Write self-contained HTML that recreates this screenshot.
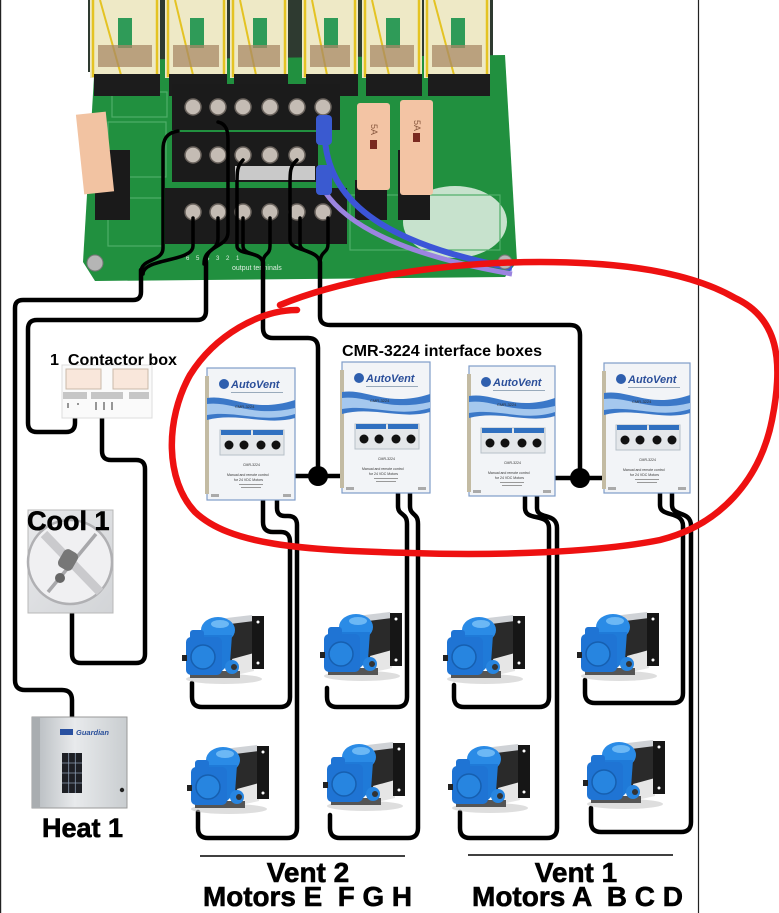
<!DOCTYPE html>
<html><head><meta charset="utf-8"><style>
html,body{margin:0;padding:0;background:#fff;}
svg{display:block;}
text{font-family:"Liberation Sans",Arial,sans-serif;}
</style></head><body>
<svg width="779" height="913" viewBox="0 0 779 913" xmlns="http://www.w3.org/2000/svg">
<defs>
<linearGradient id="heat" x1="0" y1="0" x2="1" y2="0">
<stop offset="0" stop-color="#b4b9bd"/><stop offset="0.45" stop-color="#e8eaec"/><stop offset="1" stop-color="#c9cdd0"/></linearGradient>
<linearGradient id="fanbg" x1="0" y1="0" x2="1" y2="1">
<stop offset="0" stop-color="#e8e9eb"/><stop offset="1" stop-color="#d2d4d7"/></linearGradient>
<g id="motor">
<ellipse cx="42" cy="66" rx="38" ry="5" fill="#c8c8c8" opacity=".6"/>
<polygon points="36,6 70,2 72,10 40,14" fill="#cfd2d6"/>
<polygon points="40,12 72,8 72,56 46,60" fill="#2a2a2a"/>
<polygon points="50,46 72,40 72,58 54,62" fill="#e6e6e6"/>
<rect x="70" y="3" width="12" height="53" fill="#161616"/>
<circle cx="76" cy="9" r="1.5" fill="#fff"/><circle cx="76" cy="50" r="1.5" fill="#fff"/>
<rect x="8" y="58" width="50" height="7" fill="#555"/>
<ellipse cx="36" cy="17" rx="17" ry="13" fill="#2a8be6"/>
<path d="M20,22 L50,22 L48,50 L40,58 L24,58 Z" fill="#1f7ad8"/>
<rect x="4" y="24" width="36" height="38" rx="5" fill="#1f74d4"/>
<rect x="8" y="17" width="14" height="12" rx="3" fill="#1f74d4"/>
<circle cx="21" cy="44" r="12" fill="#2785e0" stroke="#165fb0" stroke-width="1.5"/>
<circle cx="50" cy="54" r="7" fill="#2785e0"/>
<circle cx="52" cy="54" r="3" fill="#333"/>
<rect x="0" y="42" width="5" height="6" fill="#222"/>
<ellipse cx="38" cy="11" rx="9" ry="4" fill="#6cb8f5"/>
</g>
</defs>
<rect width="779" height="913" fill="#fff"/>

<!-- PCB -->
<rect x="88" y="0" width="405" height="72" fill="#2e3a30"/>
<polygon points="95,60 505,55 517,262 505,277 95,281 83,262" fill="#21903f"/>
<ellipse cx="455" cy="222" rx="52" ry="36" fill="#e4f1e6" opacity=".85"/>
<g fill="none" stroke="#4fae68" stroke-width="1.2">
<rect x="108" y="122" width="58" height="55"/><rect x="108" y="198" width="55" height="48"/>
<rect x="350" y="195" width="150" height="55"/><rect x="112" y="92" width="55" height="25"/>
</g>
<!-- relays -->
<g>
<rect x="90" y="-4" width="70" height="82" fill="#eee9c6"/><rect x="93" y="-4" width="64" height="80" fill="none" stroke="#e4c323" stroke-width="2.5"/><line x1="100" y1="0" x2="121" y2="75" stroke="#e4c323" stroke-width="2"/><rect x="118" y="18" width="14" height="30" fill="#2f9b58"/><rect x="98" y="45" width="54" height="22" fill="#a88866" opacity=".75"/><rect x="94" y="74" width="66" height="22" fill="#1c1c1c"/>
<rect x="165" y="-4" width="62" height="82" fill="#eee9c6"/><rect x="168" y="-4" width="56" height="80" fill="none" stroke="#e4c323" stroke-width="2.5"/><line x1="175" y1="0" x2="193" y2="75" stroke="#e4c323" stroke-width="2"/><rect x="190" y="18" width="14" height="30" fill="#2f9b58"/><rect x="173" y="45" width="46" height="22" fill="#a88866" opacity=".75"/><rect x="169" y="74" width="58" height="22" fill="#1c1c1c"/>
<rect x="230" y="-4" width="58" height="82" fill="#eee9c6"/><rect x="233" y="-4" width="52" height="80" fill="none" stroke="#e4c323" stroke-width="2.5"/><line x1="240" y1="0" x2="256" y2="75" stroke="#e4c323" stroke-width="2"/><rect x="253" y="18" width="14" height="30" fill="#2f9b58"/><rect x="238" y="45" width="42" height="22" fill="#a88866" opacity=".75"/><rect x="234" y="74" width="54" height="22" fill="#1c1c1c"/>
<rect x="302" y="-4" width="56" height="82" fill="#eee9c6"/><rect x="305" y="-4" width="50" height="80" fill="none" stroke="#e4c323" stroke-width="2.5"/><line x1="312" y1="0" x2="327" y2="75" stroke="#e4c323" stroke-width="2"/><rect x="324" y="18" width="14" height="30" fill="#2f9b58"/><rect x="310" y="45" width="40" height="22" fill="#a88866" opacity=".75"/><rect x="306" y="74" width="52" height="22" fill="#1c1c1c"/>
<rect x="362" y="-4" width="60" height="82" fill="#eee9c6"/><rect x="365" y="-4" width="54" height="80" fill="none" stroke="#e4c323" stroke-width="2.5"/><line x1="372" y1="0" x2="389" y2="75" stroke="#e4c323" stroke-width="2"/><rect x="386" y="18" width="14" height="30" fill="#2f9b58"/><rect x="370" y="45" width="44" height="22" fill="#a88866" opacity=".75"/><rect x="366" y="74" width="56" height="22" fill="#1c1c1c"/>
<rect x="424" y="-4" width="66" height="82" fill="#eee9c6"/><rect x="427" y="-4" width="60" height="80" fill="none" stroke="#e4c323" stroke-width="2.5"/><line x1="434" y1="0" x2="454" y2="75" stroke="#e4c323" stroke-width="2"/><rect x="451" y="18" width="14" height="30" fill="#2f9b58"/><rect x="432" y="45" width="50" height="22" fill="#a88866" opacity=".75"/><rect x="428" y="74" width="62" height="22" fill="#1c1c1c"/>
</g>
<!-- fuses -->
<rect x="95" y="150" width="35" height="70" fill="#1a1a1a"/>
<rect x="80" y="113" width="30" height="80" fill="#f2c3a2" transform="rotate(-6 95 153)"/>
<rect x="355" y="180" width="32" height="40" fill="#1a1a1a"/>
<rect x="398" y="150" width="32" height="70" fill="#1a1a1a"/>
<rect x="357" y="103" width="33" height="87" rx="3" fill="#f3c4a4"/>
<rect x="370" y="140" width="7" height="9" fill="#7a2a20"/>
<rect x="400" y="100" width="33" height="95" rx="3" fill="#f3c4a4"/>
<rect x="413" y="133" width="7" height="9" fill="#7a2a20"/>
<text x="371" y="124" font-size="9" fill="#8a5a40" transform="rotate(90 371 124)">5A</text>
<text x="414" y="120" font-size="9" fill="#8a5a40" transform="rotate(90 414 120)">5A</text>
<!-- terminal blocks -->
<rect x="172" y="84" width="168" height="46" fill="#1b1b1b"/>
<rect x="172" y="132" width="146" height="50" fill="#1b1b1b"/>
<rect x="165" y="188" width="182" height="56" fill="#1b1b1b"/>
<rect x="235" y="166" width="80" height="14" fill="#c9c9c9"/>
<g fill="#c4bcb4" stroke="#6b645e" stroke-width="1.5">
<circle cx="193" cy="107" r="8"/><circle cx="218" cy="107" r="8"/><circle cx="243" cy="107" r="8"/><circle cx="270" cy="107" r="8"/><circle cx="297" cy="107" r="8"/><circle cx="323" cy="107" r="8"/>
<circle cx="193" cy="155" r="8"/><circle cx="218" cy="155" r="8"/><circle cx="243" cy="155" r="8"/><circle cx="270" cy="155" r="8"/><circle cx="297" cy="155" r="8"/>
<circle cx="193" cy="212" r="8"/><circle cx="218" cy="212" r="8"/><circle cx="243" cy="212" r="8"/><circle cx="270" cy="212" r="8"/><circle cx="297" cy="212" r="8"/><circle cx="323" cy="212" r="8"/>
</g>
<!-- blue cables -->
<path d="M325,140 C330,205 390,245 512,268" fill="none" stroke="#3c55d8" stroke-width="6"/>
<path d="M325,192 C352,232 420,258 512,274" fill="none" stroke="#9b84e0" stroke-width="5"/>
<rect x="316" y="115" width="16" height="30" rx="4" fill="#3a5ad0"/>
<rect x="316" y="165" width="16" height="30" rx="4" fill="#3a5ad0"/>
<circle cx="95" cy="263" r="8" fill="#b5b5b5" stroke="#777"/>
<circle cx="505" cy="262" r="7" fill="#b5b5b5" stroke="#777"/>
<text x="232" y="270" font-size="7" fill="#dfeee2">output terminals</text>
<text x="186" y="260" font-size="6" fill="#dfeee2" xml:space="preserve" style="white-space:pre">6    5    4    3    2    1</text>
<!-- board wires -->
<g fill="none" stroke="#000" stroke-width="3.5" stroke-linecap="round">
<path d="M178,131 C166,133 163,140 163,150 L163,248 C163,262 141,258 141,272"/>
<path d="M193,218 L193,246 C193,262 143,258 143,274"/>
<path d="M218,122 C226,124 228,130 228,140 L228,232 C228,248 206,244 206,262"/>
<path d="M218,218 L218,238 C218,252 204,248 204,264"/>
<path d="M243,160 C237,166 237,172 237,184 L237,246 C237,256 263,250 263,264"/>
<path d="M243,218 L243,246 C243,256 263,252 263,264"/>
<path d="M270,218 L270,246 C270,256 263,252 263,264"/>
<path d="M297,160 C290,166 290,172 290,184 L290,240 C290,252 320,248 320,264"/>
<path d="M300,218 L300,244 C300,254 320,250 320,264"/>
<path d="M328,218 L328,244 C328,254 320,250 320,264"/>
</g>

<!-- borders -->
<line x1="0.6" y1="0" x2="0.6" y2="913" stroke="#222" stroke-width="1.2"/>
<line x1="698.5" y1="0" x2="698.5" y2="913" stroke="#222" stroke-width="1.2"/>

<!-- main wires -->
<g fill="none" stroke="#000" stroke-width="4.5" stroke-linejoin="round" stroke-linecap="round">
<path d="M141,270 L141,292 Q141,300 133,300 L23,300 Q15,300 15,308 L15,680 Q15,690 25,690 L62,690 Q72,690 72,700 L72,718"/>
<path d="M206,262 L206,311 Q206,320 197,320 L37,320 Q28,320 28,329 L28,423 Q28,432 37,432 L66,432 Q75,432 75,423 L75,416"/>
<path d="M102,416 L102,451 Q102,460 111,460 L136,460 Q145,460 145,469 L145,654 Q145,663 136,663 L81,663 Q72,663 72,654 L72,612"/>
<path d="M263,262 L263,328 Q263,338 273,338 L308,338 Q318,338 318,348 L318,476"/>
<path d="M293,476 L344,476"/>
<path d="M320,262 L320,316 Q320,325 330,325 L570,325 Q580,325 580,335 L580,478"/>
<path d="M554,478 L605,478"/>
<path d="M263,498 L263,522 Q263,532 273,532 L281,532 Q290,532 290,542 L290,697 Q290,707 280,707 L202,707 Q192,707 192,697 L192,683"/>
<path d="M277,498 L277,508 Q277,516 285,516 L288,516 Q297,516 297,525 L297,828 Q297,838 287,838 L208,838 Q198,838 198,828 L198,812"/>
<path d="M398,491 L398,506 C398,516 407,512 407,524 L407,697 Q407,707 397,707 L337,707 Q327,707 327,697 L327,688"/>
<path d="M410,491 L410,506 C410,516 418,512 418,524 L418,828 Q418,838 408,838 L340,838 Q330,838 330,828 L330,815"/>
<path d="M525,495 L525,508 C525,522 549,512 549,528 L549,697 Q549,707 539,707 L464,707 Q454,707 454,697 L454,685"/>
<path d="M537,495 L537,508 C537,520 557,512 557,528 L557,828 Q557,838 547,838 L470,838 Q460,838 460,828 L460,812"/>
<path d="M660,492 L660,505 C660,518 683,510 683,526 L683,693 Q683,703 673,703 L595,703 Q585,703 585,693 L585,680"/>
<path d="M672,492 L672,505 C672,517 691,510 691,526 L691,822 Q691,832 681,832 L601,832 Q591,832 591,822 L591,808"/>
</g>
<circle cx="318" cy="476" r="10" fill="#000"/>
<circle cx="580" cy="478" r="10" fill="#000"/>

<!-- contactor box -->
<rect x="62" y="365" width="90" height="53" fill="#fafafa" stroke="#ddd"/>
<rect x="66" y="369" width="35" height="20" fill="#f9e7db" stroke="#c9b9aa"/>
<rect x="113" y="369" width="35" height="20" fill="#f9e7db" stroke="#c9b9aa"/>
<rect x="63" y="392" width="24" height="7" fill="#c6c6c6"/>
<rect x="91" y="392" width="32" height="7" fill="#c6c6c6"/>
<rect x="129" y="392" width="20" height="7" fill="#c6c6c6"/>
<g stroke="#333" stroke-width="1"><line x1="68" y1="403" x2="68" y2="408"/><line x1="78" y1="403" x2="78" y2="405"/><line x1="96" y1="402" x2="96" y2="410"/><line x1="104" y1="402" x2="104" y2="410"/><line x1="112" y1="402" x2="112" y2="410"/></g>
<text x="50" y="365" font-size="16" font-weight="bold" fill="#000" xml:space="preserve" style="white-space:pre" textLength="127" lengthAdjust="spacingAndGlyphs">1  Contactor box</text>

<!-- fan -->
<rect x="28" y="510" width="85" height="103" fill="url(#fanbg)" stroke="#b8b8b8"/>
<circle cx="70" cy="562" r="42" fill="#f0f0f2" stroke="#b0b0b3" stroke-width="2.5"/>
<line x1="44" y1="534" x2="100" y2="592" stroke="#cacacd" stroke-width="9"/>
<line x1="48" y1="592" x2="96" y2="534" stroke="#a8a8ab" stroke-width="3.5"/>
<rect x="60" y="550" width="16" height="20" rx="5" fill="#777" transform="rotate(30 68 560)"/>
<circle cx="60" cy="578" r="5" fill="#666"/>
<text x="27" y="530" font-size="27" font-weight="bold" fill="#000" stroke="#000" stroke-width="0.6">Cool 1</text>

<!-- heater -->
<rect x="32" y="717" width="95" height="91" fill="url(#heat)" stroke="#999"/>
<rect x="32" y="717" width="8" height="91" fill="#a9adb0"/>
<rect x="60" y="729" width="13" height="6" fill="#2850a0"/>
<text x="76" y="735" font-size="7.5" font-style="italic" font-weight="bold" fill="#2a4f9a">Guardian</text>
<rect x="62" y="753" width="20" height="40" fill="#1d1f24"/>
<g stroke="#8a9bb0" stroke-width="0.8"><line x1="68.7" y1="753" x2="68.7" y2="793"/><line x1="75.3" y1="753" x2="75.3" y2="793"/><line x1="62" y1="763" x2="82" y2="763"/><line x1="62" y1="773" x2="82" y2="773"/><line x1="62" y1="783" x2="82" y2="783"/></g>
<circle cx="122" cy="790" r="2.2" fill="#222"/>
<text x="42" y="837" font-size="27" font-weight="bold" fill="#000" stroke="#000" stroke-width="0.6">Heat 1</text>

<!-- CMR label -->
<text x="342" y="356" font-size="16" font-weight="bold" fill="#000" textLength="200" lengthAdjust="spacingAndGlyphs">CMR-3224 interface boxes</text>

<!-- interface boxes -->
<g transform="translate(207,368)">
<rect x="0" y="0" width="88" height="132" fill="#f2f4f7" stroke="#7f9cc9" stroke-width="1.2"/>
<rect x="-2" y="8" width="4" height="118" fill="#c3bba3"/>
<circle cx="17" cy="16" r="5" fill="#2f5fae"/>
<text x="24" y="20" font-size="11" font-style="italic" font-weight="bold" fill="#2b4f9a" font-family="Liberation Serif,serif">AutoVent</text>
<rect x="24" y="24" width="52" height="1" fill="#9ab"/>
<path d="M0,30 C25,26 45,46 88,32 L88,50 C60,58 30,44 0,52 Z" fill="#3b78c8"/>
<path d="M0,36 C25,33 45,50 88,40 L88,46 C55,56 30,42 0,47 Z" fill="#a5c8ee"/>
<text x="28" y="40" font-size="4" fill="#333">CMR-3224</text>
<rect x="13" y="62" width="64" height="25" fill="#e4e7ea" stroke="#b7c0c8"/>
<rect x="14" y="62" width="30" height="5" fill="#3070c0"/><rect x="46" y="62" width="30" height="5" fill="#3070c0"/>
<circle cx="22" cy="77" r="4.5" fill="#111"/><circle cx="37" cy="77" r="4.5" fill="#111"/><circle cx="54" cy="77" r="4.5" fill="#111"/><circle cx="69" cy="77" r="4.5" fill="#111"/>
<text x="36" y="98" font-size="3.5" fill="#333">CMR-3224</text>
<text x="20" y="108" font-size="3.5" fill="#333">Manual and remote control</text>
<text x="27" y="113" font-size="3.5" fill="#333">for 24 VDC Motors</text>
<rect x="32" y="116" width="24" height="1" fill="#999"/><rect x="34" y="119" width="20" height="1" fill="#999"/>
<rect x="4" y="126" width="8" height="3" fill="#aaa"/><rect x="76" y="126" width="8" height="3" fill="#aaa"/>
</g>
<g transform="translate(342,362)">
<rect x="0" y="0" width="88" height="131" fill="#f2f4f7" stroke="#7f9cc9" stroke-width="1.2"/>
<rect x="-2" y="8" width="4" height="118" fill="#c3bba3"/>
<circle cx="17" cy="16" r="5" fill="#2f5fae"/>
<text x="24" y="20" font-size="11" font-style="italic" font-weight="bold" fill="#2b4f9a" font-family="Liberation Serif,serif">AutoVent</text>
<rect x="24" y="24" width="52" height="1" fill="#9ab"/>
<path d="M0,30 C25,26 45,46 88,32 L88,50 C60,58 30,44 0,52 Z" fill="#3b78c8"/>
<path d="M0,36 C25,33 45,50 88,40 L88,46 C55,56 30,42 0,47 Z" fill="#a5c8ee"/>
<text x="28" y="40" font-size="4" fill="#333">CMR-3224</text>
<rect x="13" y="62" width="64" height="25" fill="#e4e7ea" stroke="#b7c0c8"/>
<rect x="14" y="62" width="30" height="5" fill="#3070c0"/><rect x="46" y="62" width="30" height="5" fill="#3070c0"/>
<circle cx="22" cy="77" r="4.5" fill="#111"/><circle cx="37" cy="77" r="4.5" fill="#111"/><circle cx="54" cy="77" r="4.5" fill="#111"/><circle cx="69" cy="77" r="4.5" fill="#111"/>
<text x="36" y="98" font-size="3.5" fill="#333">CMR-3224</text>
<text x="20" y="108" font-size="3.5" fill="#333">Manual and remote control</text>
<text x="27" y="113" font-size="3.5" fill="#333">for 24 VDC Motors</text>
<rect x="32" y="116" width="24" height="1" fill="#999"/><rect x="34" y="119" width="20" height="1" fill="#999"/>
<rect x="4" y="125" width="8" height="3" fill="#aaa"/><rect x="76" y="125" width="8" height="3" fill="#aaa"/>
</g>
<g transform="translate(469,366)">
<rect x="0" y="0" width="86" height="130" fill="#f2f4f7" stroke="#7f9cc9" stroke-width="1.2"/>
<rect x="-2" y="8" width="4" height="118" fill="#c3bba3"/>
<circle cx="17" cy="16" r="5" fill="#2f5fae"/>
<text x="24" y="20" font-size="11" font-style="italic" font-weight="bold" fill="#2b4f9a" font-family="Liberation Serif,serif">AutoVent</text>
<rect x="24" y="24" width="52" height="1" fill="#9ab"/>
<path d="M0,30 C25,26 45,46 86,32 L86,50 C60,58 30,44 0,52 Z" fill="#3b78c8"/>
<path d="M0,36 C25,33 45,50 86,40 L86,46 C55,56 30,42 0,47 Z" fill="#a5c8ee"/>
<text x="28" y="40" font-size="4" fill="#333">CMR-3224</text>
<rect x="12" y="62" width="64" height="25" fill="#e4e7ea" stroke="#b7c0c8"/>
<rect x="13" y="62" width="30" height="5" fill="#3070c0"/><rect x="45" y="62" width="30" height="5" fill="#3070c0"/>
<circle cx="21" cy="77" r="4.5" fill="#111"/><circle cx="36" cy="77" r="4.5" fill="#111"/><circle cx="53" cy="77" r="4.5" fill="#111"/><circle cx="68" cy="77" r="4.5" fill="#111"/>
<text x="35" y="98" font-size="3.5" fill="#333">CMR-3224</text>
<text x="19" y="108" font-size="3.5" fill="#333">Manual and remote control</text>
<text x="26" y="113" font-size="3.5" fill="#333">for 24 VDC Motors</text>
<rect x="31" y="116" width="24" height="1" fill="#999"/><rect x="33" y="119" width="20" height="1" fill="#999"/>
<rect x="4" y="124" width="8" height="3" fill="#aaa"/><rect x="74" y="124" width="8" height="3" fill="#aaa"/>
</g>
<g transform="translate(604,363)">
<rect x="0" y="0" width="86" height="130" fill="#f2f4f7" stroke="#7f9cc9" stroke-width="1.2"/>
<rect x="-2" y="8" width="4" height="118" fill="#c3bba3"/>
<circle cx="17" cy="16" r="5" fill="#2f5fae"/>
<text x="24" y="20" font-size="11" font-style="italic" font-weight="bold" fill="#2b4f9a" font-family="Liberation Serif,serif">AutoVent</text>
<rect x="24" y="24" width="52" height="1" fill="#9ab"/>
<path d="M0,30 C25,26 45,46 86,32 L86,50 C60,58 30,44 0,52 Z" fill="#3b78c8"/>
<path d="M0,36 C25,33 45,50 86,40 L86,46 C55,56 30,42 0,47 Z" fill="#a5c8ee"/>
<text x="28" y="40" font-size="4" fill="#333">CMR-3224</text>
<rect x="12" y="62" width="64" height="25" fill="#e4e7ea" stroke="#b7c0c8"/>
<rect x="13" y="62" width="30" height="5" fill="#3070c0"/><rect x="45" y="62" width="30" height="5" fill="#3070c0"/>
<circle cx="21" cy="77" r="4.5" fill="#111"/><circle cx="36" cy="77" r="4.5" fill="#111"/><circle cx="53" cy="77" r="4.5" fill="#111"/><circle cx="68" cy="77" r="4.5" fill="#111"/>
<text x="35" y="98" font-size="3.5" fill="#333">CMR-3224</text>
<text x="19" y="108" font-size="3.5" fill="#333">Manual and remote control</text>
<text x="26" y="113" font-size="3.5" fill="#333">for 24 VDC Motors</text>
<rect x="31" y="116" width="24" height="1" fill="#999"/><rect x="33" y="119" width="20" height="1" fill="#999"/>
<rect x="4" y="124" width="8" height="3" fill="#aaa"/><rect x="74" y="124" width="8" height="3" fill="#aaa"/>
</g>

<!-- motors -->
<use href="#motor" transform="translate(182,613)"/>
<use href="#motor" transform="translate(320,610)"/>
<use href="#motor" transform="translate(187,743)"/>
<use href="#motor" transform="translate(323,740)"/>
<use href="#motor" transform="translate(443,613)"/>
<use href="#motor" transform="translate(577,610)"/>
<use href="#motor" transform="translate(448,742)"/>
<use href="#motor" transform="translate(583,738)"/>

<!-- vent labels -->
<line x1="200" y1="856" x2="405" y2="856" stroke="#000" stroke-width="1.5"/>
<line x1="468" y1="855" x2="673" y2="855" stroke="#000" stroke-width="1.5"/>
<text x="308" y="882" font-size="28" font-weight="bold" text-anchor="middle" fill="#000" stroke="#000" stroke-width="0.6">Vent 2</text>
<text x="203" y="906" font-size="28" font-weight="bold" fill="#000" stroke="#000" stroke-width="0.6" xml:space="preserve" style="white-space:pre" textLength="209" lengthAdjust="spacingAndGlyphs">Motors E  F G H</text>
<text x="576" y="882" font-size="28" font-weight="bold" text-anchor="middle" fill="#000" stroke="#000" stroke-width="0.6">Vent 1</text>
<text x="472" y="906" font-size="28" font-weight="bold" fill="#000" stroke="#000" stroke-width="0.6" xml:space="preserve" style="white-space:pre" textLength="211" lengthAdjust="spacingAndGlyphs">Motors A  B C D</text>

<!-- red ellipse -->
<path d="M297,310 C260,310 215,335 190,375 C165,420 165,480 195,512 C230,545 300,550 410,553 C500,556 600,552 660,540 C720,525 760,480 772,420 C784,360 778,318 735,298 C690,272 620,262 540,262 C440,262 340,280 280,305" fill="none" stroke="#ee1111" stroke-width="6.5" stroke-linecap="round" stroke-linejoin="round"/>
</svg>
</body></html>
